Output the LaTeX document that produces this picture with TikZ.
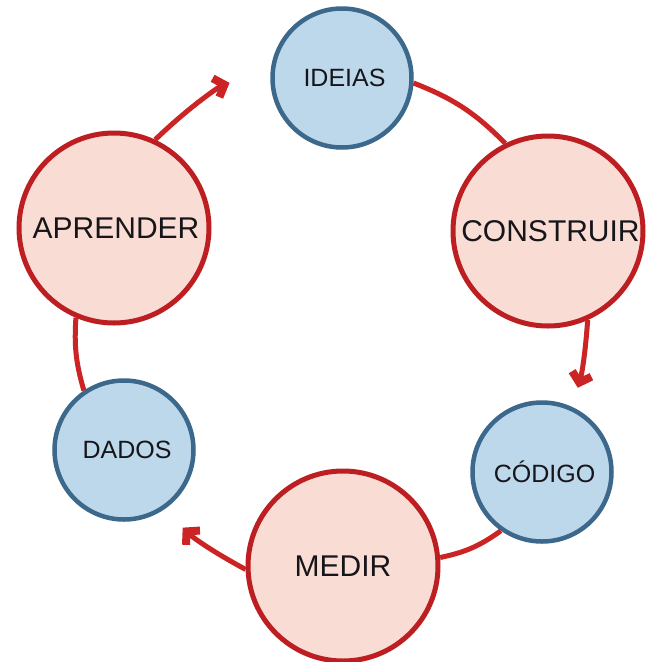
\documentclass[tikz,border=0pt]{standalone}
\usepackage{fontspec}
\setmainfont{Liberation Sans}
\usetikzlibrary{arrows.meta}
\definecolor{pinkfill}{RGB}{249,220,212}
\definecolor{pinkdraw}{RGB}{188,30,34}
\definecolor{bluefill}{RGB}{190,216,235}
\definecolor{bluedraw}{RGB}{60,104,140}
\definecolor{linkred}{RGB}{204,36,36}
\definecolor{txt}{RGB}{22,22,26}
\begin{document}
\begin{tikzpicture}[x=1pt,y=1pt,
  bignode/.style={circle, draw=pinkdraw, fill=pinkfill, line width=5pt,
    minimum size=190pt, inner sep=0pt, text=txt, font=\fontsize{30}{32}\selectfont},
  smallnode/.style={circle, draw=bluedraw, fill=bluefill, line width=4.5pt,
    minimum size=139pt, inner sep=0pt, text=txt, font=\fontsize{25}{27}\selectfont},
  link/.style={draw=linkred, line width=5pt},
  arrowlink/.style={link, -{Straight Barb[length=9pt,width=20pt,line width=8pt]}}
]
\fill[white] (0,0) rectangle (646,-662);
\useasboundingbox (0,0) rectangle (646,-662);

\node[smallnode] (ideias)    at (342,-78)  {\hspace*{5pt}IDEIAS};
\node[bignode]   (construir) at (548,-231) {\hspace*{5pt}CONSTRUIR};
\node[smallnode] (codigo)    at (542,-472) {\hspace*{5pt}CÓDIGO};
\node[bignode]   (medir)     at (343,-566) {MEDIR};
\node[smallnode] (dados)     at (124,-450) {\hspace*{6pt}DADOS};
\node[bignode]   (aprender)  at (114,-228) {\hspace*{4pt}APRENDER};

\draw[link] (ideias.-4) to[bend left=12] (construir.116);
\draw[arrowlink, shorten >=20pt] (construir.-66) to[bend left=6] (codigo.65);
\draw[link] (codigo.235) to[bend left=12] (medir.5);
\draw[arrowlink, shorten >=26pt] (medir.182) to[bend left=8] (dados.-56);
\draw[link] (dados.124) to[bend left=10] (aprender.247);
\draw[arrowlink, shorten >=44pt] (aprender.65) to[bend left=12] (ideias.172);
\end{tikzpicture}
\end{document}
